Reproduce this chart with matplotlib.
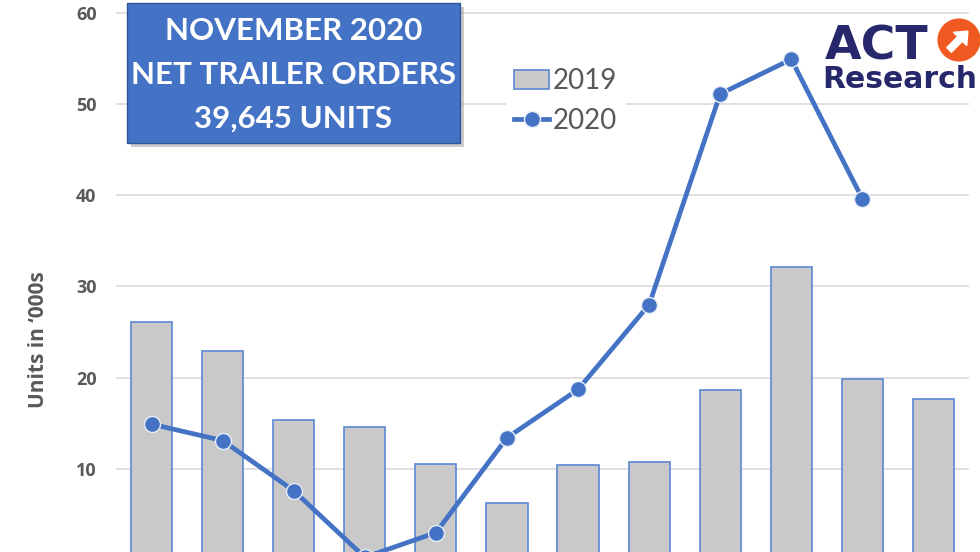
import matplotlib
matplotlib.use("Agg")
import matplotlib.pyplot as plt
from matplotlib.patches import Rectangle, Circle, FancyArrow

months = ["Jan", "Feb", "Mar", "Apr", "May", "Jun", "Jul", "Aug", "Sep", "Oct", "Nov", "Dec"]
orders_2019 = [26.1, 22.9, 15.4, 14.6, 10.5, 6.2, 10.4, 10.7, 18.6, 32.1, 19.8, 17.7]
orders_2020 = [14.9, 13.1, 7.6, 0.3, 3.0, 13.4, 18.7, 28.0, 51.1, 54.9, 39.6]
yticks = [10, 20, 30, 40, 50, 60]

W, H = 980, 552
fig = plt.figure(figsize=(W / 100, H / 100), dpi=100)
fig.patch.set_facecolor("white")
ax = fig.add_axes([116 / W, 0, 853 / W, 1])
ax.set_facecolor("white")

blue = "#4472C4"
gray_txt = "#595959"
x = list(range(len(months)))
ax.bar(x, orders_2019, width=0.58, color="#C9C9C9", edgecolor="#5B87D4", linewidth=1.2, zorder=2, label="2019")
ax.plot(x[:len(orders_2020)], orders_2020, color=blue, linewidth=3.4, marker="o", markersize=11.5,
        markerfacecolor=blue, markeredgecolor="#E8EEF8", markeredgewidth=1.0, zorder=4, label="2020")

ax.set_xlim(-0.5, 11.5)
ax.set_ylim(0.88, 61.4)
ax.set_yticks(yticks)
ax.grid(axis="y", color="#DADADA", linewidth=1.2, zorder=0)
ax.set_axisbelow(True)
for s in ax.spines.values():
    s.set_visible(False)
ax.tick_params(axis="x", bottom=False, labelbottom=False)
ax.tick_params(axis="y", length=0, pad=14)
for t in ax.get_yticklabels():
    t.set_fontweight("bold")
    t.set_color(gray_txt)
    t.set_fontsize(13)
    t.set_family("Open Sans")

fig.text(38 / W, 1 - 340 / H, "Units in \u2018000s", rotation=90, ha="center", va="center",
         fontsize=15, fontweight="bold", color=gray_txt, family="Open Sans")

# legend
handles, labels = ax.get_legend_handles_labels()
order = [labels.index("2019"), labels.index("2020")]
leg = ax.legend([handles[i] for i in order], [labels[i] for i in order],
                loc="upper left", bbox_to_anchor=((492 - 116) / 853, 1 - 46 / H), frameon=True,
                handlelength=1.25, handletextpad=0.15, labelspacing=0.5,
                borderpad=0.3, prop={"family": "Lato", "size": 20})
leg.get_frame().set_edgecolor("none")
leg.get_frame().set_facecolor("white")
leg.get_frame().set_alpha(1)
for t in leg.get_texts():
    t.set_color(gray_txt)

# title box with shadow
bx0, by0, bw, bh = 127, 3, 333, 140
fig.patches.append(Rectangle(((bx0 + 4) / W, 1 - (by0 + bh + 4) / H), bw / W, bh / H,
                             transform=fig.transFigure, facecolor="#9A9A9A", edgecolor="none", alpha=0.5, zorder=5))
fig.patches.append(Rectangle((bx0 / W, 1 - (by0 + bh) / H), bw / W, bh / H,
                             transform=fig.transFigure, facecolor=blue, edgecolor="#2F5597", linewidth=1, zorder=6))
for i, line in enumerate(["NOVEMBER 2020", "NET TRAILER ORDERS", "39,645 UNITS"]):
    fig.text((bx0 + bw / 2) / W, 1 - (31 + i * 44) / H, line, ha="center", va="center", color="white",
             fontsize=22.5, fontweight="bold", family="Lato", zorder=7)

# logo
navy = "#27276B"
fig.text(825 / W, 1 - 60 / H, "ACT", ha="left", va="baseline", fontsize=34, fontweight="bold",
         color=navy, family="DejaVu Sans", zorder=8)
fig.text(822 / W, 1 - 88 / H, "Research", ha="left", va="baseline", fontsize=21.5, fontweight="bold",
         color=navy, family="DejaVu Sans", zorder=8)
lax = fig.add_axes([937 / W, 1 - 62 / H, 44 / W, 44 / H])
lax.set_xlim(-1, 1)
lax.set_ylim(-1, 1)
lax.set_aspect("equal")
lax.axis("off")
lax.add_patch(Circle((0, 0), 0.98, facecolor="#F05A22", edgecolor="none"))
lax.add_patch(FancyArrow(-0.45, -0.45, 0.5, 0.5, width=0.3, head_width=0.85, head_length=0.5,
                         color="white", length_includes_head=False))

fig.savefig("out.png", dpi=100, facecolor="white")
